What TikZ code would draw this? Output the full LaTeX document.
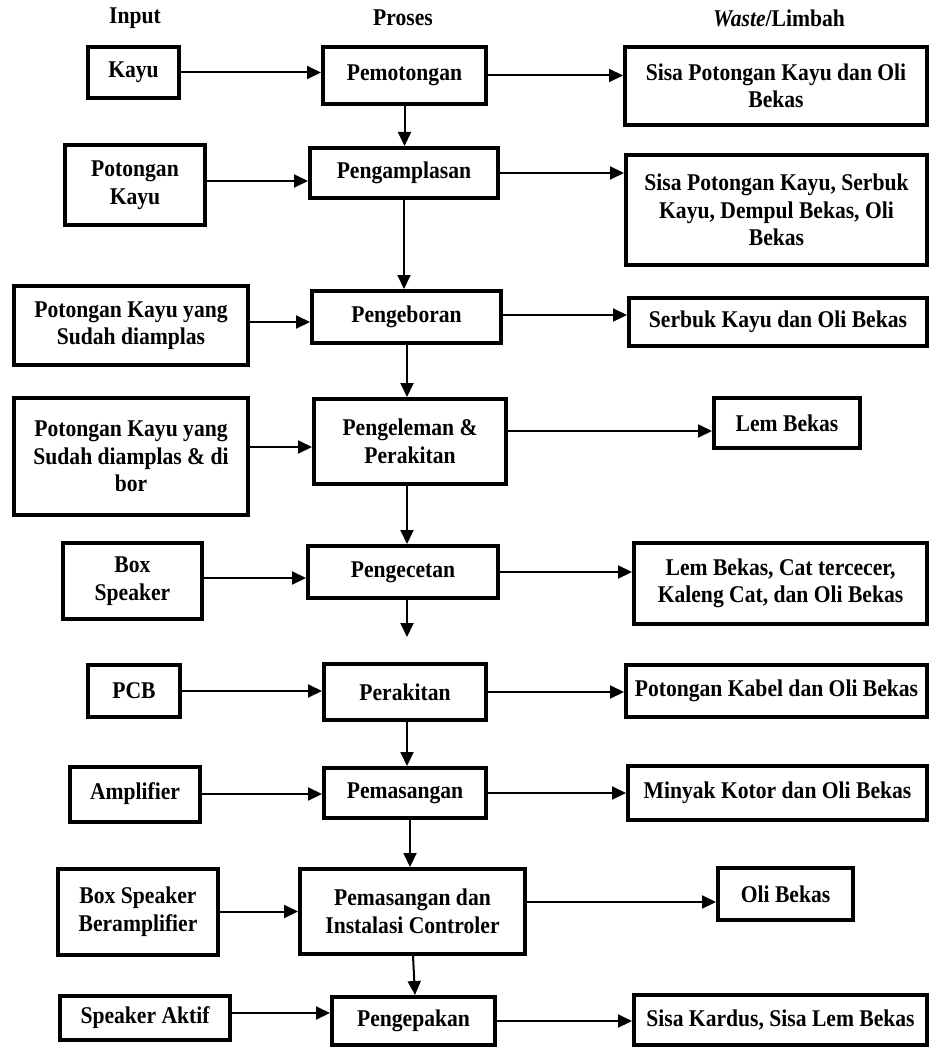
\documentclass[tikz,border=0pt]{standalone}
\usepackage{fontspec}
\setmainfont{Liberation Serif}[FakeStretch=0.9]
\usetikzlibrary{arrows.meta}
\begin{document}
\begin{tikzpicture}[x=1pt,y=-1pt,
  bx/.style={draw, line width=4pt, inner sep=0pt, align=center,
    font=\fontsize{24}{27.5}\selectfont\bfseries},
  hdr/.style={inner sep=0pt, font=\fontsize{24}{27.5}\selectfont\bfseries},
  arr/.style={line width=2pt, -{Triangle[length=14pt,width=13pt]}}]
\useasboundingbox (0,0) rectangle (932,1051);

% headers
\node[hdr] (hi) at (135,18) {Input};
\node[hdr] (hp) at (403,18) {Proses};
\node[hdr] (hw) at (779,18) {\textit{Waste}/Limbah};

% inputs
\node[bx, minimum width=91pt, minimum height=51pt] (i1) at (133.5,72.5) {Kayu};
\node[bx, minimum width=140pt, minimum height=80pt] (i2) at (135,185) {Potongan\\Kayu};
\node[bx, minimum width=234pt, minimum height=79pt] (i3) at (131,325.5) {Potongan Kayu yang\\Sudah diamplas};
\node[bx, minimum width=234pt, minimum height=117pt] (i4) at (131,456.5) {Potongan Kayu yang\\Sudah diamplas \& di\\bor};
\node[bx, minimum width=139pt, minimum height=76pt] (i5) at (132.5,581) {Box\\Speaker};
\node[bx, minimum width=92pt, minimum height=52pt] (i6) at (134,691) {PCB};
\node[bx, minimum width=130pt, minimum height=55pt] (i7) at (135,794) {Amplifier};
\node[bx, minimum width=160pt, minimum height=86pt] (i8) at (138,911.5) {Box Speaker\\Beramplifier};
\node[bx, minimum width=170pt, minimum height=44pt] (i9) at (145,1018) {Speaker Aktif};

% process
\node[bx, minimum width=163pt, minimum height=57pt] (p1) at (404.5,75.5) {Pemotongan};
\node[bx, minimum width=188pt, minimum height=50pt] (p2) at (404,173) {Pengamplasan};
\node[bx, minimum width=189pt, minimum height=52pt] (p3) at (406.5,317) {Pengeboran};
\node[bx, minimum width=192pt, minimum height=85pt] (p4) at (410,441.5) {Pengeleman \&\\Perakitan};
\node[bx, minimum width=190pt, minimum height=52pt] (p5) at (403,572) {Pengecetan};
\node[bx, minimum width=162pt, minimum height=56pt] (p6) at (405,692) {Perakitan};
\node[bx, minimum width=162pt, minimum height=50pt] (p7) at (405,793) {Pemasangan};
\node[bx, minimum width=225pt, minimum height=85pt] (p8) at (412.5,911.5) {Pemasangan dan\\Instalasi Controler};
\node[bx, minimum width=163pt, minimum height=48pt] (p9) at (413.5,1021) {Pengepakan};

% waste
\node[bx, minimum width=302pt, minimum height=78pt] (w1) at (776,86) {Sisa Potongan Kayu dan Oli\\Bekas};
\node[bx, minimum width=301pt, minimum height=110pt] (w2) at (776.5,210) {Sisa Potongan Kayu, Serbuk\\Kayu, Dempul Bekas, Oli\\Bekas};
\node[bx, minimum width=298pt, minimum height=48pt] (w3) at (778,322) {Serbuk Kayu dan Oli Bekas};
\node[bx, minimum width=146pt, minimum height=50pt] (w4) at (787,423) {Lem Bekas};
\node[bx, minimum width=293pt, minimum height=81pt] (w5) at (780.5,583.5) {Lem Bekas, Cat tercecer,\\Kaleng Cat, dan Oli Bekas};
\node[bx, minimum width=301pt, minimum height=52pt] (w6) at (776.5,691) {Potongan Kabel dan Oli Bekas};
\node[bx, minimum width=299pt, minimum height=54pt] (w7) at (777.5,793) {Minyak Kotor dan Oli Bekas};
\node[bx, minimum width=135pt, minimum height=52pt] (w8) at (785.5,894) {Oli Bekas};
\node[bx, minimum width=293pt, minimum height=50pt] (w9) at (780.5,1020) {Sisa Kardus, Sisa Lem Bekas};

% input arrows
\coordinate (a1) at (i1.east);
\coordinate (a2) at ([yshift=4pt]i2.east);
\coordinate (a3) at ([yshift=3.5pt]i3.east);
\coordinate (a4) at ([yshift=9.5pt]i4.east);
\coordinate (a5) at ([yshift=3pt]i5.east);
\coordinate (a6) at (i6.east);
\coordinate (a7) at (i7.east);
\coordinate (a8) at (i8.east);
\coordinate (a9) at ([yshift=5pt]i9.east);
\draw[arr] (a1) -- (a1 -| p1.west);
\draw[arr] (a2) -- (a2 -| p2.west);
\draw[arr] (a3) -- (a3 -| p3.west);
\draw[arr] (a4) -- (a4 -| p4.west);
\draw[arr] (a5) -- (a5 -| p5.west);
\draw[arr] (a6) -- (a6 -| p6.west);
\draw[arr] (a7) -- (a7 -| p7.west);
\draw[arr] (a8) -- (a8 -| p8.west);
\draw[arr] (a9) -- (a9 -| p9.west);

% waste arrows
\coordinate (b1) at (p1.east);
\coordinate (b2) at (p2.east);
\coordinate (b3) at ([yshift=2pt]p3.east);
\coordinate (b4) at ([yshift=10.5pt]p4.east);
\coordinate (b5) at (p5.east);
\coordinate (b6) at (p6.east);
\coordinate (b7) at (p7.east);
\coordinate (b8) at ([yshift=9.5pt]p8.east);
\coordinate (b9) at (p9.east);
\draw[arr] (b1) -- (b1 -| w1.west);
\draw[arr] (b2) -- (b2 -| w2.west);
\draw[arr] (b3) -- (b3 -| w3.west);
\draw[arr] (b4) -- (b4 -| w4.west);
\draw[arr] (b5) -- (b5 -| w5.west);
\draw[arr] (b6) -- (b6 -| w6.west);
\draw[arr] (b7) -- (b7 -| w7.west);
\draw[arr] (b8) -- (b8 -| w8.west);
\draw[arr] (b9) -- (b9 -| w9.west);

% process flow
\draw[arr] (p1.south) -- (p1.south |- p2.north);
\draw[arr] (p2.south) -- (p2.south |- p3.north);
\draw[arr] ([xshift=0.5pt]p3.south) -- ([xshift=0.5pt]p3.south |- p4.north);
\draw[arr] ([xshift=-3pt]p4.south) -- ([xshift=-3pt]p4.south |- p5.north);
\coordinate (g5) at ([xshift=4pt,yshift=-37pt]p5.south);
\draw[arr] (g5 |- p5.south) -- (g5);
\draw[arr] ([xshift=2pt]p6.south) -- ([xshift=2pt]p6.south |- p7.north);
\draw[arr] ([xshift=5pt]p7.south) -- ([xshift=5pt]p7.south |- p8.north);
\draw[arr] ([xshift=0.5pt]p8.south) -- ([xshift=1.5pt]p9.north);
\end{tikzpicture}
\end{document}
